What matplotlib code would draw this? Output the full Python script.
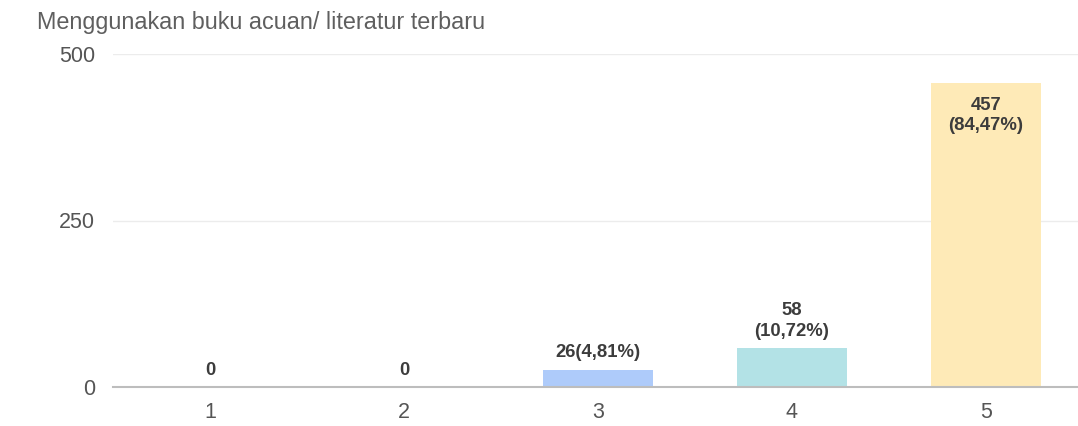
import matplotlib.pyplot as plt
import numpy as np

# data
kategori = ['1', '2', '3', '4', '5']
jumlah = [0, 0, 26, 58, 457]
label_bar = ['0', '0', '26(4,81%)', '58\n(10,72%)', '457\n(84,47%)']
warna_bar = ['#aecbfa', '#aecbfa', '#aecbfa', '#b3e2e6', '#feeab7']
judul = 'Menggunakan buku acuan/ literatur terbaru'
y_ticks = [0, 250, 500]

plt.rcParams['font.family'] = ['Liberation Sans', 'DejaVu Sans']

fig = plt.figure(figsize=(10.78, 4.26), dpi=100)
ax = fig.add_axes([113 / 1078, 39 / 426, 970 / 1078, 333 / 426])

x = np.arange(1, len(kategori) + 1)
ax.bar(x, jumlah, width=0.57, color=warna_bar, zorder=2)

for xi, yi, lab in zip(x, jumlah, label_bar):
    if yi > 300:
        # label masuk ke dalam bar kalau bar tinggi
        ax.annotate(lab, (xi, yi), xytext=(0, -10), textcoords='offset points',
                    ha='center', va='top', fontsize=13.3, fontweight='bold',
                    color='#3c3c3c', linespacing=1.3, zorder=3)
    else:
        ax.annotate(lab, (xi, yi), xytext=(0, 6), textcoords='offset points',
                    ha='center', va='bottom', fontsize=13.3, fontweight='bold',
                    color='#3c3c3c', linespacing=1.3, zorder=3)

ax.set_xlim(0.5, 5.5)
ax.set_ylim(0, 500)
ax.set_xticks(x)
ax.set_xticklabels(kategori)
ax.set_yticks(y_ticks)

for s in ['top', 'right', 'left']:
    ax.spines[s].set_visible(False)
ax.spines['bottom'].set_color('#bdbdbd')
ax.spines['bottom'].set_linewidth(1.5)
ax.spines['bottom'].set_zorder(4)

ax.grid(axis='y', color='#ececec', linewidth=1, zorder=0)
ax.tick_params(axis='both', length=0, labelsize=15.5, colors='#555555')
ax.tick_params(axis='y', pad=13)
ax.tick_params(axis='x', pad=11)

fig.text(37 / 1078, 1 - 23 / 426, judul, fontsize=16.8, color='#5f5f5f',
         ha='left', va='center')

fig.savefig('out.png', dpi=100)
